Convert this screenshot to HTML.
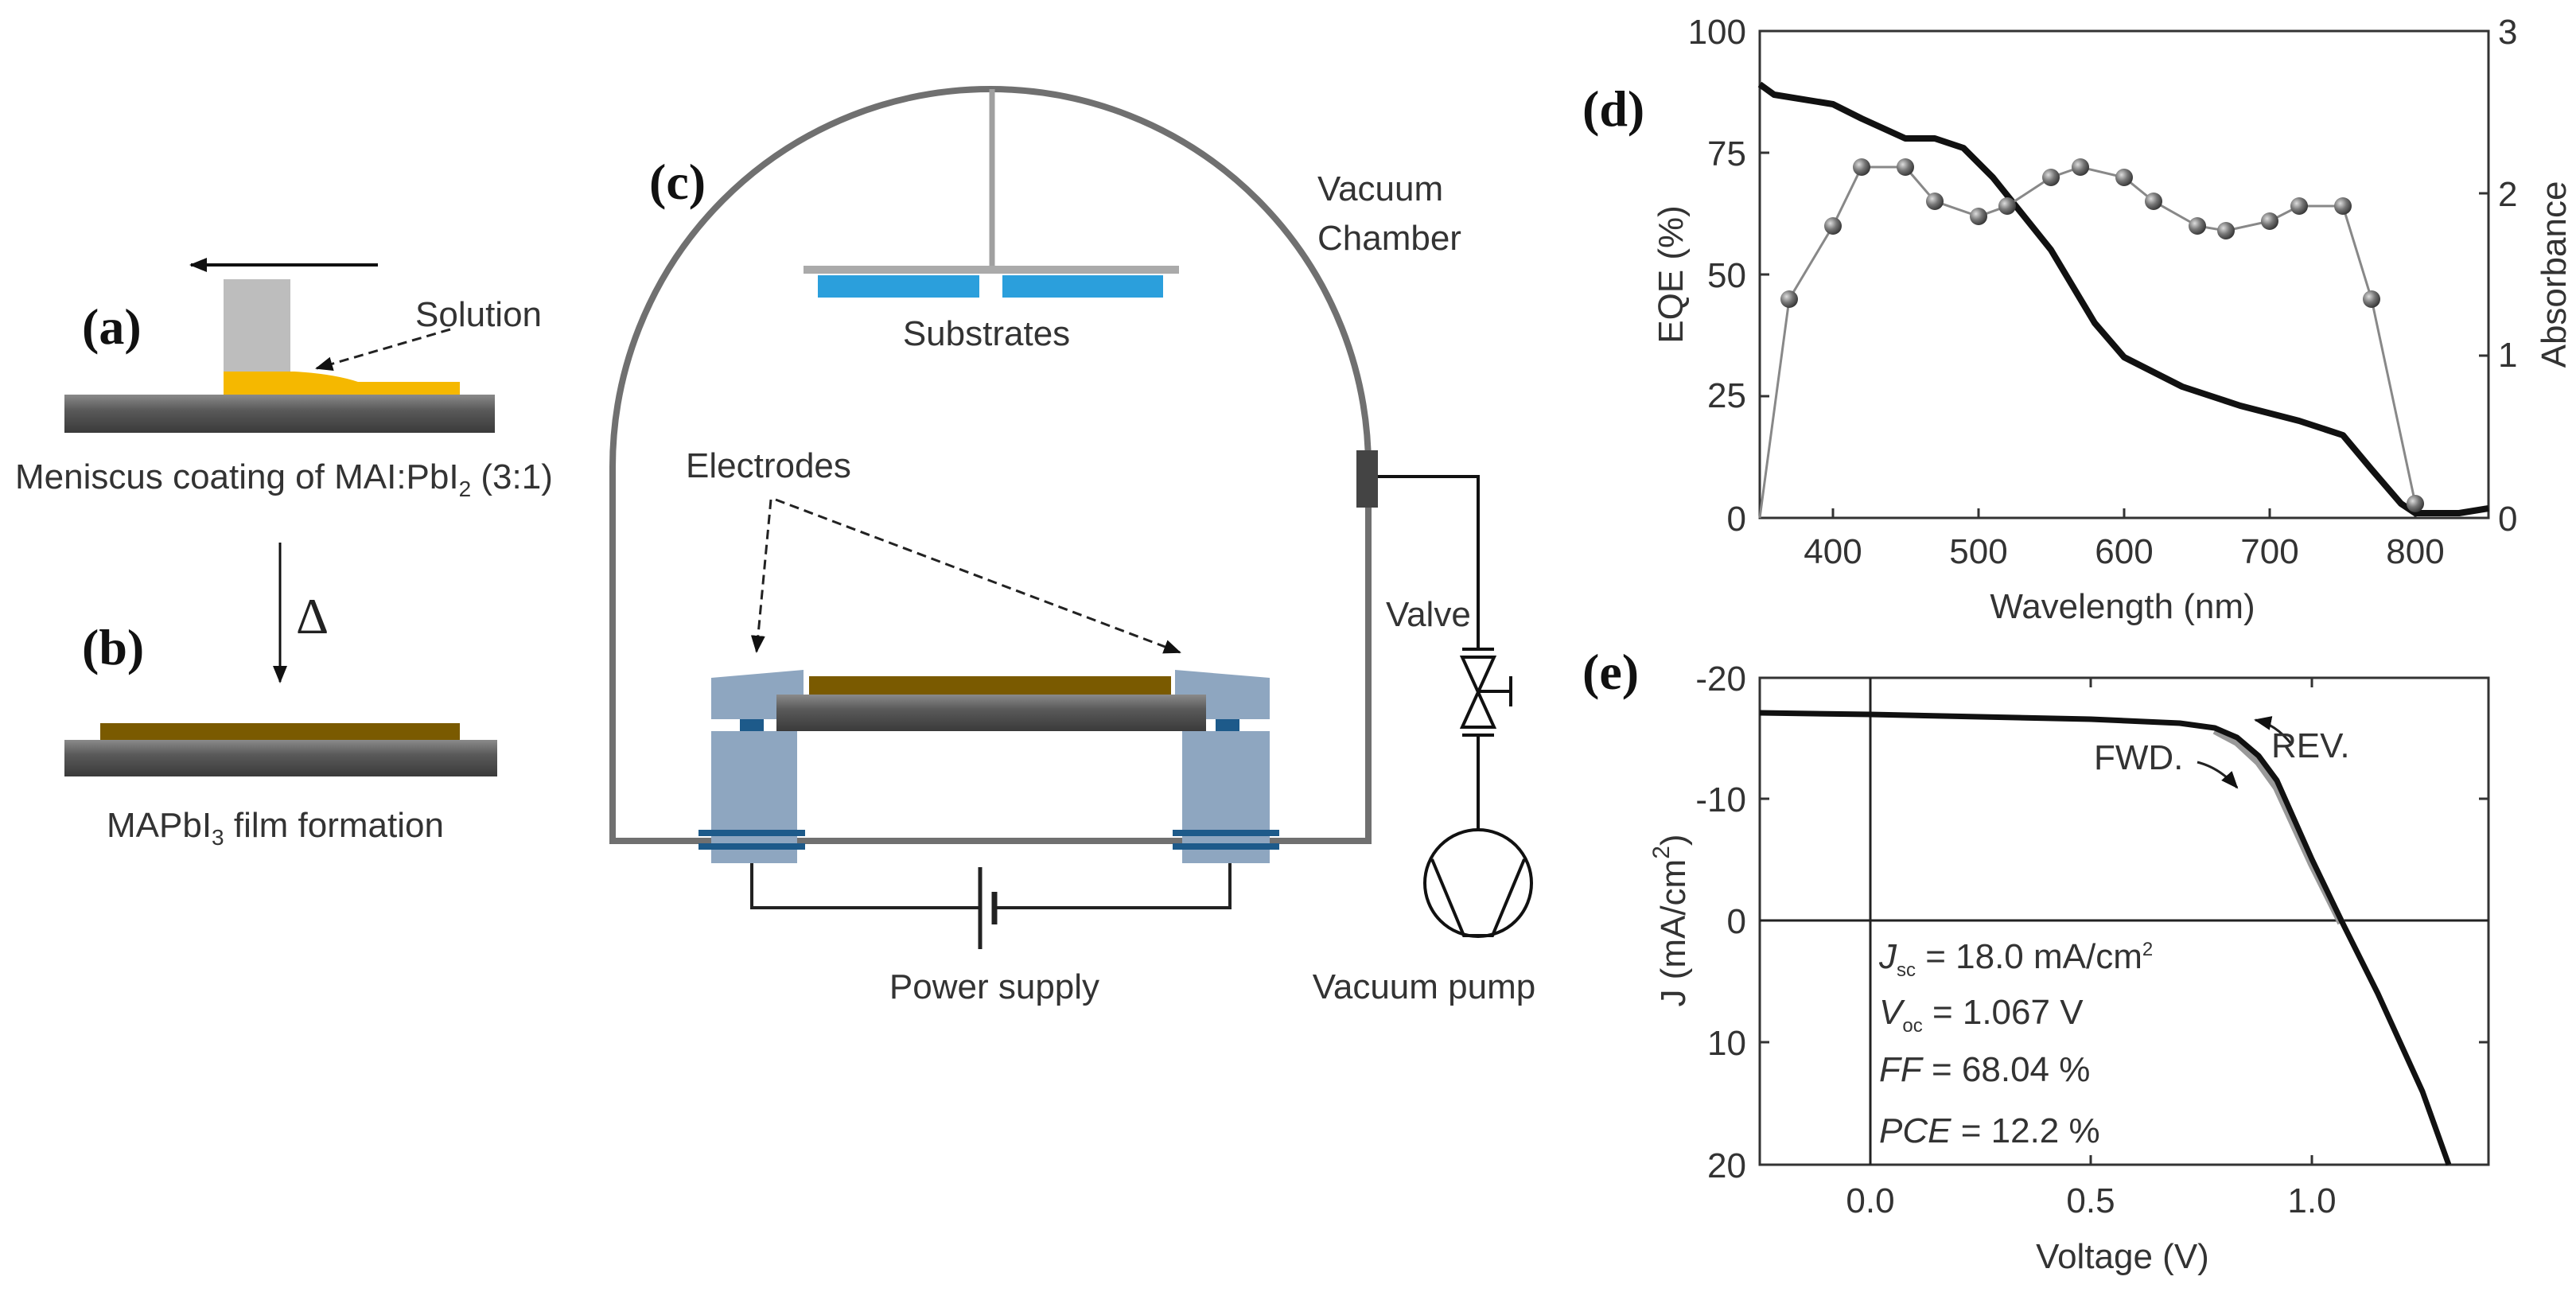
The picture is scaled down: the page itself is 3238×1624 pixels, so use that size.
<!DOCTYPE html>
<html><head><meta charset="utf-8"><style>
html,body{margin:0;padding:0;background:#fff;}
svg{display:block;}
.lab{font-family:"Liberation Serif",serif;font-weight:bold;font-size:64px;fill:#111;}
.t{font-family:"Liberation Sans",sans-serif;font-size:44px;fill:#333;}
.a{font-family:"Liberation Sans",sans-serif;font-size:44px;fill:#333;}
</style></head><body>
<svg width="3238" height="1624" viewBox="0 0 3238 1624" xmlns="http://www.w3.org/2000/svg">
<defs>
<linearGradient id="sub" x1="0" y1="0" x2="0" y2="1"><stop offset="0" stop-color="#8a8a8a"/><stop offset="0.4" stop-color="#5a5a5a"/><stop offset="1" stop-color="#3a3a3a"/></linearGradient>
<marker id="ahf" markerWidth="22" markerHeight="18" refX="20" refY="9" orient="auto" markerUnits="userSpaceOnUse"><path d="M0,0 L22,9 L0,18 Z" fill="#111"/></marker>
<radialGradient id="ball" cx="0.35" cy="0.35" r="0.7"><stop offset="0" stop-color="#ddd"/><stop offset="0.5" stop-color="#777"/><stop offset="1" stop-color="#333"/></radialGradient>
</defs>

<!-- (a) -->
<text class="lab" x="103" y="432">(a)</text>
<line x1="475" y1="333" x2="240" y2="333" stroke="#111" stroke-width="4" marker-end="url(#ahf)"/>
<rect x="281" y="351" width="84" height="118" fill="#bdbdbd"/>
<path d="M281,467 L370,467 Q420,470 450,480 L578,480 L578,496 L281,496 Z" fill="#f5b800"/>
<rect x="81" y="496" width="541" height="48" fill="url(#sub)"/>
<text class="t" x="522" y="410">Solution</text>
<line x1="566" y1="414" x2="398" y2="463" stroke="#222" stroke-width="3" stroke-dasharray="12,7" marker-end="url(#ahf)"/>
<text class="t" x="19" y="614">Meniscus coating of MAI:PbI<tspan font-size="28" dy="10">2</tspan><tspan dy="-10"> (3:1)</tspan></text>
<line x1="352" y1="682" x2="352" y2="857" stroke="#111" stroke-width="3" marker-end="url(#ahf)"/>
<text x="372" y="796" font-family="Liberation Serif,serif" font-size="64" fill="#222">Δ</text>
<text class="lab" x="103" y="835">(b)</text>
<rect x="126" y="909" width="452" height="22" fill="#7a5a00"/>
<rect x="81" y="930" width="544" height="46" fill="url(#sub)"/>
<text class="t" x="134" y="1052">MAPbI<tspan font-size="28" dy="10">3</tspan><tspan dy="-10"> film formation</tspan></text>

<!-- (c) chamber -->
<path d="M770,1057 L770,587 A475,475 0 0 1 1720,587 L1720,1057 Z" fill="none" stroke="#707070" stroke-width="8"/>
<text class="lab" x="816" y="250">(c)</text>
<line x1="1247" y1="112" x2="1247" y2="337" stroke="#a0a0a0" stroke-width="7"/>
<rect x="1010" y="334" width="472" height="10" fill="#aaaaaa"/>
<rect x="1028" y="346" width="203" height="28" fill="#2b9fdc"/>
<rect x="1260" y="346" width="202" height="28" fill="#2b9fdc"/>
<text class="t" x="1240" y="434" text-anchor="middle">Substrates</text>
<text class="t" x="1656" y="252">Vacuum</text>
<text class="t" x="1656" y="314">Chamber</text>
<text class="t" x="862" y="600">Electrodes</text>
<line x1="969" y1="628" x2="951" y2="819" stroke="#222" stroke-width="3" stroke-dasharray="12,7" marker-end="url(#ahf)"/>
<line x1="975" y1="628" x2="1483" y2="820" stroke="#222" stroke-width="3" stroke-dasharray="12,7" marker-end="url(#ahf)"/>
<!-- electrodes -->
<path d="M894,852 L1010,842 L1010,904 L894,904 Z" fill="#8ea6c0"/>
<rect x="894" y="919" width="108" height="166" fill="#8ea6c0"/>
<rect x="930" y="904" width="30" height="15" fill="#1d5a8a"/>
<path d="M1477,842 L1596,852 L1596,904 L1477,904 Z" fill="#8ea6c0"/>
<rect x="1486" y="919" width="110" height="166" fill="#8ea6c0"/>
<rect x="1528" y="904" width="30" height="15" fill="#1d5a8a"/>
<rect x="1017" y="850" width="455" height="23" fill="#7a5a00"/>
<rect x="976" y="873" width="540" height="46" fill="url(#sub)"/>
<rect x="878" y="1043" width="134" height="8" fill="#1d5a8a"/>
<rect x="878" y="1060" width="134" height="8" fill="#1d5a8a"/>
<rect x="1474" y="1043" width="134" height="8" fill="#1d5a8a"/>
<rect x="1474" y="1060" width="134" height="8" fill="#1d5a8a"/>
<!-- power supply -->
<polyline points="945,1085 945,1141 1232,1141" fill="none" stroke="#222" stroke-width="4"/>
<polyline points="1250,1141 1546,1141 1546,1085" fill="none" stroke="#222" stroke-width="4"/>
<line x1="1232" y1="1090" x2="1232" y2="1193" stroke="#222" stroke-width="5"/>
<line x1="1250" y1="1121" x2="1250" y2="1162" stroke="#222" stroke-width="7"/>
<text class="t" x="1250" y="1255" text-anchor="middle">Power supply</text>
<!-- pump -->
<rect x="1705" y="566" width="27" height="72" fill="#444"/>
<polyline points="1732,599 1858,599 1858,816" fill="none" stroke="#111" stroke-width="4"/>
<line x1="1838" y1="816" x2="1878" y2="816" stroke="#111" stroke-width="4"/>
<line x1="1838" y1="924" x2="1878" y2="924" stroke="#111" stroke-width="4"/>
<path d="M1838,826 L1878,826 L1838,914 L1878,914 Z" fill="none" stroke="#111" stroke-width="4"/>
<line x1="1858" y1="869" x2="1899" y2="869" stroke="#111" stroke-width="4"/>
<line x1="1899" y1="850" x2="1899" y2="888" stroke="#111" stroke-width="4"/>
<line x1="1858" y1="924" x2="1858" y2="1043" stroke="#111" stroke-width="4"/>
<circle cx="1858" cy="1110" r="67" fill="none" stroke="#111" stroke-width="4"/>
<polyline points="1800,1080 1840,1176 1876,1176 1916,1080" fill="none" stroke="#111" stroke-width="4"/>
<text class="t" x="1742" y="787">Valve</text>
<text class="t" x="1790" y="1255" text-anchor="middle">Vacuum pump</text>

<!-- (d) chart -->
<text class="lab" x="1989" y="158">(d)</text>
<rect x="2212" y="39" width="916" height="612" fill="none" stroke="#333" stroke-width="3"/>
<g stroke="#333" stroke-width="3">
<line x1="2212" y1="192" x2="2224" y2="192"/><line x1="2212" y1="345" x2="2224" y2="345"/><line x1="2212" y1="498" x2="2224" y2="498"/>
<line x1="3128" y1="243" x2="3116" y2="243"/><line x1="3128" y1="447" x2="3116" y2="447"/>
<line x1="2304" y1="651" x2="2304" y2="639"/><line x1="2487" y1="651" x2="2487" y2="639"/><line x1="2670" y1="651" x2="2670" y2="639"/><line x1="2853" y1="651" x2="2853" y2="639"/><line x1="3036" y1="651" x2="3036" y2="639"/>
</g>
<text class="a" x="2195" y="55" text-anchor="end">100</text><text class="a" x="2195" y="208" text-anchor="end">75</text><text class="a" x="2195" y="361" text-anchor="end">50</text><text class="a" x="2195" y="512" text-anchor="end">25</text><text class="a" x="2195" y="667" text-anchor="end">0</text>
<text class="a" x="3140" y="55">3</text><text class="a" x="3140" y="259">2</text><text class="a" x="3140" y="461">1</text><text class="a" x="3140" y="667">0</text>
<text class="a" x="2304" y="708" text-anchor="middle">400</text><text class="a" x="2487" y="708" text-anchor="middle">500</text><text class="a" x="2670" y="708" text-anchor="middle">600</text><text class="a" x="2853" y="708" text-anchor="middle">700</text><text class="a" x="3036" y="708" text-anchor="middle">800</text>
<text class="a" x="2668" y="777" text-anchor="middle" font-size="54">Wavelength (nm)</text>
<text class="a" font-size="54" transform="translate(2115,345) rotate(-90)" text-anchor="middle">EQE (%)</text>
<text class="a" font-size="54" transform="translate(3225,345) rotate(-90)" text-anchor="middle">Absorbance</text>
<polyline fill="none" stroke="#111" stroke-width="8" stroke-linejoin="round" points="2212,106 2230,119 2304,131 2340,149 2395,174 2432,174 2468,186 2505,223 2578,314 2633,406 2670,449 2743,486 2816,510 2890,529 2945,547 2981,590 3018,633 3036,645 3091,645 3128,639"/>
<polyline fill="none" stroke="#888" stroke-width="3" points="2212,651 2249,376 2304,284 2340,210 2395,210 2432,253 2487,272 2523,259 2578,223 2615,210 2670,223 2707,253 2762,284 2798,290 2853,278 2890,259 2945,259 2981,376 3036,633"/>
<g fill="url(#ball)">
<circle cx="2249" cy="376" r="11"/><circle cx="2304" cy="284" r="11"/><circle cx="2340" cy="210" r="11"/><circle cx="2395" cy="210" r="11"/><circle cx="2432" cy="253" r="11"/><circle cx="2487" cy="272" r="11"/><circle cx="2523" cy="259" r="11"/><circle cx="2578" cy="223" r="11"/><circle cx="2615" cy="210" r="11"/><circle cx="2670" cy="223" r="11"/><circle cx="2707" cy="253" r="11"/><circle cx="2762" cy="284" r="11"/><circle cx="2798" cy="290" r="11"/><circle cx="2853" cy="278" r="11"/><circle cx="2890" cy="259" r="11"/><circle cx="2945" cy="259" r="11"/><circle cx="2981" cy="376" r="11"/><circle cx="3036" cy="633" r="11"/>
</g>

<!-- (e) chart -->
<text class="lab" x="1989" y="866">(e)</text>
<rect x="2212" y="852" width="916" height="612" fill="none" stroke="#333" stroke-width="3"/>
<line x1="2351" y1="852" x2="2351" y2="1464" stroke="#222" stroke-width="3"/>
<line x1="2212" y1="1157" x2="3128" y2="1157" stroke="#222" stroke-width="3"/>
<g stroke="#333" stroke-width="3">
<line x1="2212" y1="1004" x2="2224" y2="1004"/><line x1="2212" y1="1310" x2="2224" y2="1310"/>
<line x1="3128" y1="1004" x2="3116" y2="1004"/><line x1="3128" y1="1310" x2="3116" y2="1310"/>
<line x1="2628" y1="1464" x2="2628" y2="1452"/><line x1="2906" y1="1464" x2="2906" y2="1452"/>
<line x1="2628" y1="852" x2="2628" y2="864"/><line x1="2906" y1="852" x2="2906" y2="864"/>
</g>
<text class="a" x="2195" y="868" text-anchor="end">-20</text><text class="a" x="2195" y="1020" text-anchor="end">-10</text><text class="a" x="2195" y="1173" text-anchor="end">0</text><text class="a" x="2195" y="1326" text-anchor="end">10</text><text class="a" x="2195" y="1480" text-anchor="end">20</text>
<text class="a" x="2351" y="1524" text-anchor="middle">0.0</text><text class="a" x="2628" y="1524" text-anchor="middle">0.5</text><text class="a" x="2906" y="1524" text-anchor="middle">1.0</text>
<text class="a" x="2668" y="1594" text-anchor="middle" font-size="54">Voltage (V)</text>
<text class="a" font-size="54" transform="translate(2118,1157) rotate(-90)" text-anchor="middle">J (mA/cm<tspan font-size="30" dy="-20">2</tspan><tspan dy="20">)</tspan></text>
<polyline fill="none" stroke="#999" stroke-width="10" points="2784,918 2812,933 2839,958 2862,990 2906,1086 2943,1160"/>
<polyline fill="none" stroke="#111" stroke-width="7" stroke-linejoin="round" points="2212,896 2351,898 2628,904 2740,909 2784,915 2812,927 2839,950 2862,981 2906,1080 2943,1157 2989,1249 3045,1372 3078,1464"/>
<path d="M2880,935 Q2860,910 2835,905" fill="none" stroke="#222" stroke-width="3" marker-end="url(#ahf)"/>
<path d="M2762,958 Q2790,965 2812,990" fill="none" stroke="#222" stroke-width="3" marker-end="url(#ahf)"/>
<text class="a" x="2632" y="967" fill="#444" font-size="42">FWD.</text>
<text class="a" x="2855" y="952" fill="#444" font-size="42">REV.</text>
<text class="a" x="2362" y="1217" font-size="42"><tspan font-style="italic">J</tspan><tspan font-size="24" dy="10">sc</tspan><tspan dy="-10"> = 18.0 mA/cm</tspan><tspan font-size="24" dy="-16">2</tspan></text>
<text class="a" x="2362" y="1287" font-size="42"><tspan font-style="italic">V</tspan><tspan font-size="24" dy="10">oc</tspan><tspan dy="-10"> = 1.067 V</tspan></text>
<text class="a" x="2362" y="1359" font-size="42"><tspan font-style="italic">FF</tspan> = 68.04 %</text>
<text class="a" x="2362" y="1436" font-size="42"><tspan font-style="italic">PCE</tspan> = 12.2 %</text>
</svg>
</body></html>
